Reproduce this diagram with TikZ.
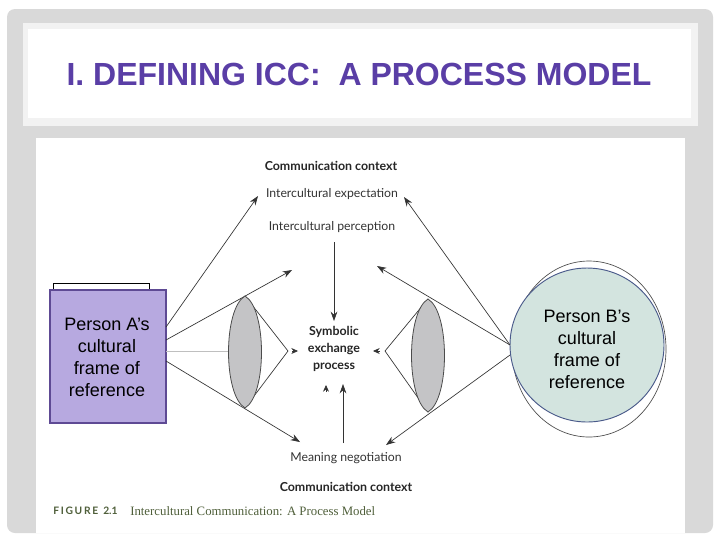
\documentclass[tikz,border=0pt]{standalone}
\usepackage{fontspec}
\setmainfont{Liberation Sans}
\newfontfamily\labelfont{Lato}
\newfontfamily\capserif{Liberation Serif}
\usetikzlibrary{arrows.meta,shapes.geometric}
\definecolor{framegray}{HTML}{D9D9D9}
\definecolor{titlepurple}{HTML}{5A3EA6}
\definecolor{boxpurple}{HTML}{B7A9E0}
\definecolor{boxedge}{HTML}{5E4A94}
\definecolor{circlegreen}{HTML}{D3E4DF}
\definecolor{circleedge}{HTML}{4A5A8A}
\definecolor{lensgray}{HTML}{C4C4C6}
\definecolor{captiongreen}{HTML}{4F5F3A}
\tikzset{
  x=0.75pt,y=-0.75pt,
  conn/.style={draw=black!80,line width=0.5pt},
  arr/.style={conn,-{Stealth[length=7pt,width=5pt]}},
  person/.style={font=\fontsize{13.5}{16.5}\selectfont,align=center,text=black},
  lab/.style={font=\labelfont\fontsize{9.2}{11}\selectfont,text=black!80,inner sep=0pt},
  labbold/.style={font=\labelfont\bfseries\fontsize{9.3}{11}\selectfont,text=black!85,inner sep=0pt},
  lens/.style={draw=black!70,line width=0.6pt,fill=lensgray},
  small head/.style={conn,-{Stealth[length=5pt,width=4.5pt]}},
}
\begin{document}
\begin{tikzpicture}
\useasboundingbox (0,0) rectangle (720,540);
\fill[white] (0,0) rectangle (720,540);
\fill[framegray,rounded corners=6pt] (7,9) rectangle (713,533);
\fill[white!95!black] (23,23) rectangle (698,126);
\fill[white] (28,29) rectangle (691,118);
\fill[white] (36,138) rectangle (685,533);
\node[font=\bfseries\fontsize{24}{28}\selectfont,text=titlepurple,inner sep=0pt] (title) at (359,74) {I. DEFINING ICC:\ \ A PROCESS MODEL};

% coordinates
\coordinate (a1) at (166,327);
\coordinate (a2) at (166,340);
\coordinate (a3) at (166,361);
\coordinate (a4) at (166,351);
\coordinate (at1) at (258,196);
\coordinate (at2) at (292,270);
\coordinate (at3) at (300,442);
\coordinate (ltA) at (245,296);
\coordinate (lbA) at (245,408);
\coordinate (lmA) at (229,351);
\coordinate (chA) at (288,351);
\coordinate (ltB) at (428,299);
\coordinate (lbB) at (428,412);
\coordinate (chB) at (385,351);
\coordinate (b1) at (510,345);
\coordinate (b2) at (510,355);
\coordinate (bt1) at (404,197);
\coordinate (bt2) at (377,266);
\coordinate (bt3) at (386,445);
\coordinate (perc) at (334,242);
\coordinate (sym) at (334,321);
\coordinate (neg) at (343,443);
\coordinate (proc) at (343,384);

% person B circles
\draw[black!70,line width=0.5pt] (589,349) ellipse [x radius=77,y radius=88];
\node[circle,draw=circleedge,line width=0.7pt,fill=circlegreen,minimum size=154*0.75pt,inner sep=0pt] (personB) at (587,345) {};
\node[person] (personBtxt) at (587,349) {Person B’s\\cultural\\frame of\\reference};

% person A boxes
\draw[black,line width=0.6pt] (53,290) -- (53,283) -- (149,283) -- (149,290);
\node[draw=boxedge,line width=1pt,fill=boxpurple,minimum width=116*0.75pt,minimum height=133*0.75pt,inner sep=0pt,person] (personA) at (108,356.5) {};
\node[person] (personAtxt) at (107,357) {Person A’s\\cultural\\frame of\\reference};

% connectors
\draw[arr] (a1) -- (at1);
\draw[arr] (a2) -- (at2);
\draw[arr] (a3) -- (at3);
\draw[black!25,line width=0.6pt] (a4) -- (lmA);
\draw[conn] (ltA) -- (chA) -- (lbA);
\draw[conn] (ltB) -- (chB) -- (lbB);
\draw[arr] (b1) -- (bt1);
\draw[arr] (b1) -- (bt2);
\draw[arr] (b2) -- (bt3);
\draw[arr] (perc) -- (sym);
\draw[arr] (neg) -- (proc);

% lenses
\draw[lens] (ltA) .. controls (223,309) and (223,395) .. (lbA) .. controls (267,395) and (267,309) .. (ltA) -- cycle;
\draw[lens] (ltB) .. controls (406,312) and (406,399) .. (lbB) .. controls (450,399) and (450,312) .. (ltB) -- cycle;

% small arrow heads
\coordinate (sa1) at (292,351);\coordinate (sa1t) at (298,351);
\coordinate (sa2) at (380,351);\coordinate (sa2t) at (373,351);
\coordinate (sa3) at (326,392);\coordinate (sa3t) at (326,385);
\draw[small head] (sa1) -- (sa1t);
\draw[small head] (sa2) -- (sa2t);
\draw[small head] (sa3) -- (sa3t);

% labels
\node[labbold] (cc1) at (331,166) {Communication context};
\node[lab] (ie) at (332,194) {Intercultural expectation};
\node[lab] (ip) at (332,227) {Intercultural perception};
\node[labbold,align=center,font=\labelfont\bfseries\fontsize{9.3}{13}\selectfont] (symtxt) at (334,349) {Symbolic\\exchange\\process};
\node[lab] (mn) at (346,458) {Meaning negotiation};
\node[labbold] (cc2) at (346,487) {Communication context};
\node[anchor=west,inner sep=0pt,font=\labelfont\bfseries\fontsize{7.7}{9}\selectfont,text=captiongreen] (figlab) at (53,511) {F\,I\,G\,U\,R\,E\ \ 2.1};
\node[anchor=west,inner sep=0pt,font=\capserif\fontsize{9.6}{11}\selectfont,text=captiongreen] (figcap) at (130,511) {Intercultural Communication: A Process Model};
\end{tikzpicture}
\end{document}
